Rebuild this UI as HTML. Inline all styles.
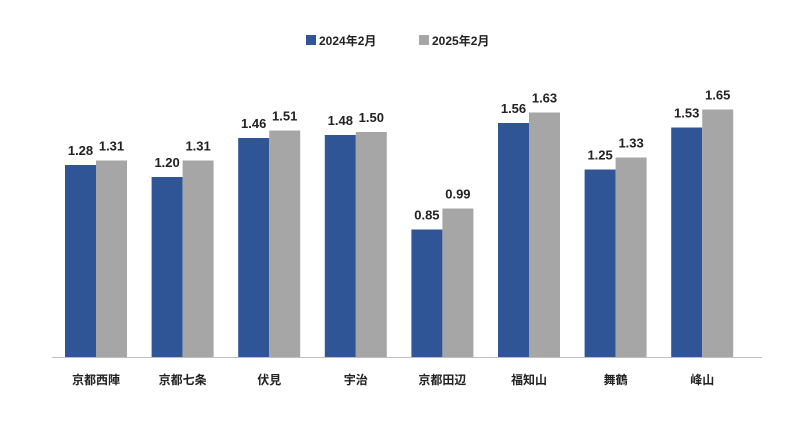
<!DOCTYPE html>
<html><head><meta charset="utf-8">
<style>
html,body{margin:0;padding:0;background:#fff;}
svg text{font-family:"Liberation Sans","Noto Sans CJK JP",sans-serif;font-weight:bold;fill:#222;}
</style></head>
<body>
<svg id="chart" width="800" height="443" xmlns="http://www.w3.org/2000/svg">
<g>
<rect x="306" y="35" width="10" height="10" fill="#2F5597"/>
<text x="319" y="45" font-size="12">2024年2月</text>
<rect x="419" y="35" width="10" height="10" fill="#A6A6A6"/>
<text x="432" y="45" font-size="12">2025年2月</text>
</g>
<line x1="52" y1="357.5" x2="762" y2="357.5" stroke="#bfbfbf" stroke-width="1"/>
<g id="bars"></g>
</svg>
<script>
const categories=["京都西陣","京都七条","伏見","宇治","京都田辺","福知山","舞鶴","峰山"];
const series2024=[1.28,1.20,1.46,1.48,0.85,1.56,1.25,1.53];
const series2025=[1.31,1.31,1.51,1.50,0.99,1.63,1.33,1.65];
const ns="http://www.w3.org/2000/svg";
const g=document.getElementById("bars");
const base=357, scale=150, x0=96, step=86.6, bw=31;
const y=v=>base-v*scale;
function mk(tag,attrs){const e=document.createElementNS(ns,tag);for(const k in attrs)e.setAttribute(k,attrs[k]);g.appendChild(e);return e;}
categories.forEach((c,i)=>{
  const cx=x0+i*step;
  [[series2024,"#2F5597",-bw,"2024"],[series2025,"#A6A6A6",0,"2025"]].forEach(([s,col,off,nm])=>{
    const v=s[i];
    const r=mk("rect",{x:cx+off,y:y(v),width:bw,height:v*scale,fill:col});
    
    
    const t=mk("text",{x:cx+off+bw/2,y:y(v)-10,"font-size":"13","text-anchor":"middle"});
    t.textContent=v.toFixed(2);
    
    
  });
  const l=mk("text",{x:cx,y:384,"font-size":"12","text-anchor":"middle"});
  l.textContent=c;
  
  
});
</script>
</body></html>
